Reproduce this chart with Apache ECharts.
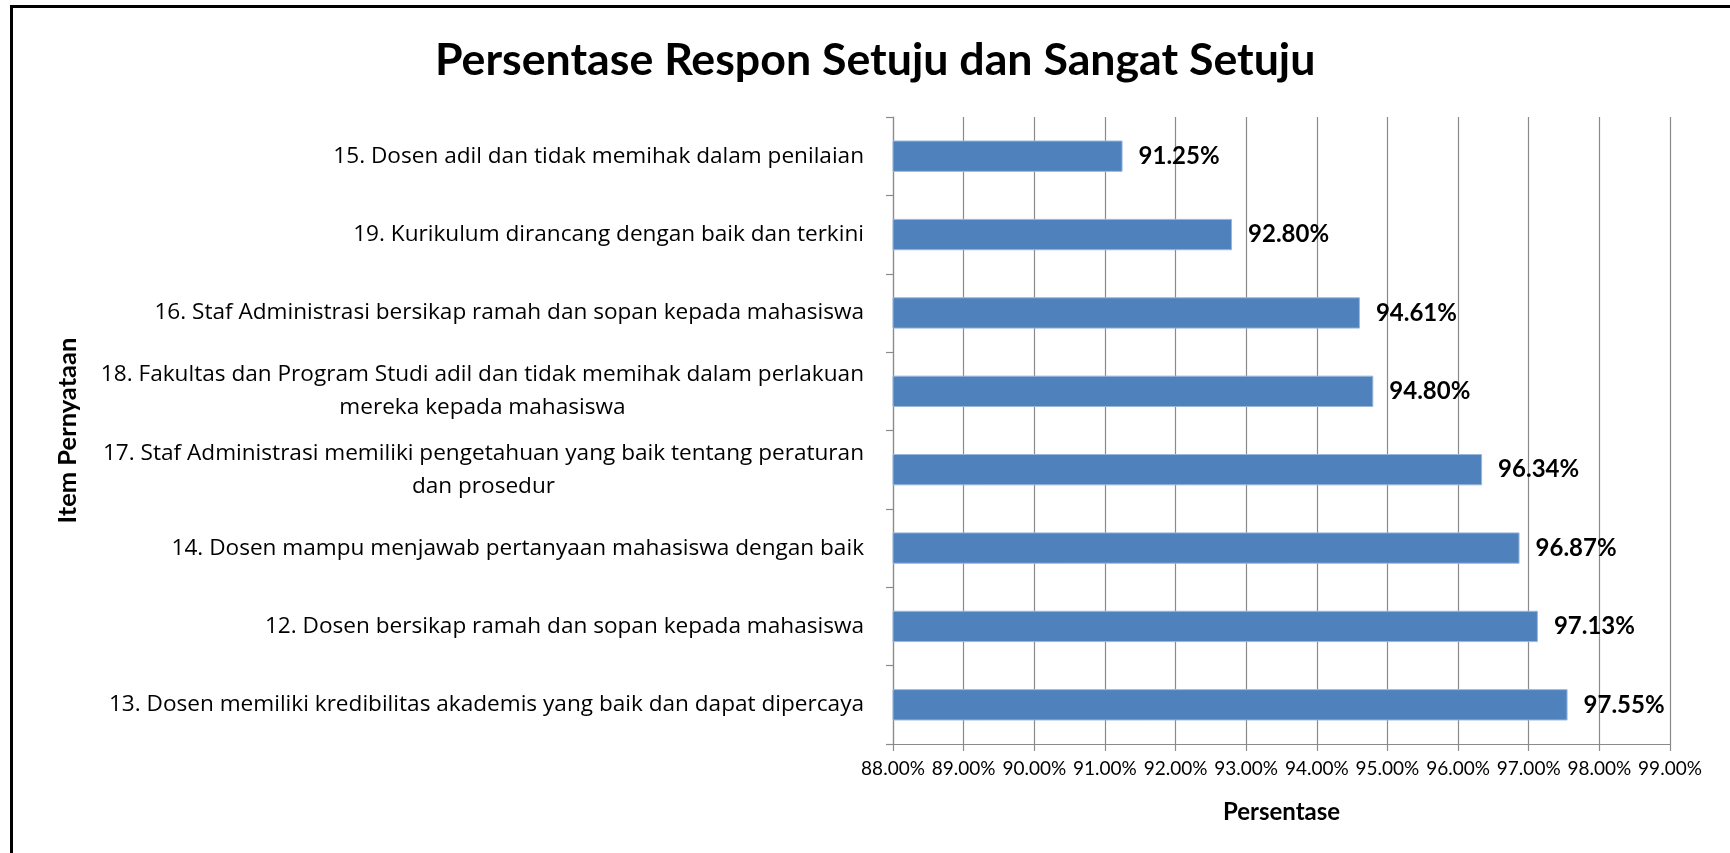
<!DOCTYPE html>
<html>
<head>
<meta charset="utf-8">
<title>Persentase Respon Setuju dan Sangat Setuju</title>
<script src="https://cdn.jsdelivr.net/npm/echarts@6/dist/echarts.min.js"></script>
<style>
  html, body { margin: 0; padding: 0; background: #fff; }
  #chart { width: 1730px; height: 853px; }
</style>
</head>
<body>
<div id="chart"></div>
<script>
// items, top to bottom
const categories = [
  '15. Dosen adil dan tidak memihak dalam penilaian',
  '19. Kurikulum dirancang dengan baik dan terkini',
  '16. Staf Administrasi bersikap ramah dan sopan kepada mahasiswa',
  '18. Fakultas dan Program Studi adil dan tidak memihak dalam perlakuan\nmereka kepada mahasiswa',
  '17. Staf Administrasi memiliki pengetahuan yang baik tentang peraturan\ndan prosedur',
  '14. Dosen mampu menjawab pertanyaan mahasiswa dengan baik',
  '12. Dosen bersikap ramah dan sopan kepada mahasiswa',
  '13. Dosen memiliki kredibilitas akademis yang baik dan dapat dipercaya'
];
const values = [91.25, 92.80, 94.61, 94.80, 96.34, 96.87, 97.13, 97.55];
const axisMin = 88;
const axisMax = 99;
const axisStep = 1;

const font = 'Lato, "Open Sans", sans-serif';
const labelFont = '"Open Sans", Lato, sans-serif';
const gray = '#8a8a8a';

let chart = echarts.init(document.getElementById('chart'));
let option = {
  animation: false,
  title: {
    text: 'Persentase Respon Setuju dan Sangat Setuju',
    left: 430,
    top: 33,
    textStyle: { fontFamily: font, fontSize: 44.7, fontWeight: 'bold', color: '#000' }
  },
  grid: {
    left: 893,
    right: 60,
    top: 117,
    bottom: 109,
    outerBoundsMode: 'none'
  },
  xAxis: {
    type: 'value',
    min: axisMin,
    max: axisMax,
    interval: axisStep,
    name: 'Persentase',
    nameLocation: 'middle',
    nameGap: 56,
    nameTextStyle: { fontFamily: font, fontSize: 24, fontWeight: 'bold', color: '#000' },
    axisLine: { show: true, lineStyle: { color: gray, width: 1.2 } },
    axisTick: { show: true, length: 7, lineStyle: { color: gray, width: 1.2 } },
    axisLabel: {
      margin: 15,
      fontFamily: font,
      fontSize: 19,
      color: '#000',
      formatter: v => v.toFixed(2) + '%'
    },
    splitLine: { show: true, lineStyle: { color: gray, width: 1.2 } }
  },
  yAxis: {
    type: 'category',
    inverse: true,
    data: categories,
    name: 'Item Pernyataan',
    nameLocation: 'middle',
    nameGap: 812,
    nameTextStyle: { fontFamily: font, fontSize: 25.5, fontWeight: 'bold', color: '#000' },
    axisLine: { show: true, lineStyle: { color: gray, width: 1.2 } },
    axisTick: { show: true, length: 7, lineStyle: { color: gray, width: 1.2 } },
    axisLabel: {
      margin: 29,
      fontFamily: labelFont,
      fontSize: 22.6,
      color: '#000',
      formatter: function (v) {
        return v.split('\n').map(s => '{c|' + s + '}').join('\n');
      },
      rich: {
        c: { align: 'center', fontFamily: labelFont, fontSize: 22.6, color: '#000', lineHeight: 33 }
      }
    },
    splitLine: { show: false }
  },
  series: [{
    type: 'bar',
    data: values,
    barWidth: '40%',
    itemStyle: { color: '#4f81bd', borderColor: '#9ab8dc', borderWidth: 1 },
    label: {
      show: true,
      position: 'right',
      distance: 16,
      fontFamily: font,
      fontSize: 24,
      fontWeight: 'bold',
      color: '#000',
      formatter: p => p.value.toFixed(2) + '%'
    }
  }],
  graphic: [{
    type: 'rect',
    silent: true,
    shape: { x: 11.5, y: 6.5, width: 2000, height: 2000 },
    style: { fill: 'none', stroke: '#000', lineWidth: 3 }
  }]
};
chart.setOption(option);
</script>
</body>
</html>
